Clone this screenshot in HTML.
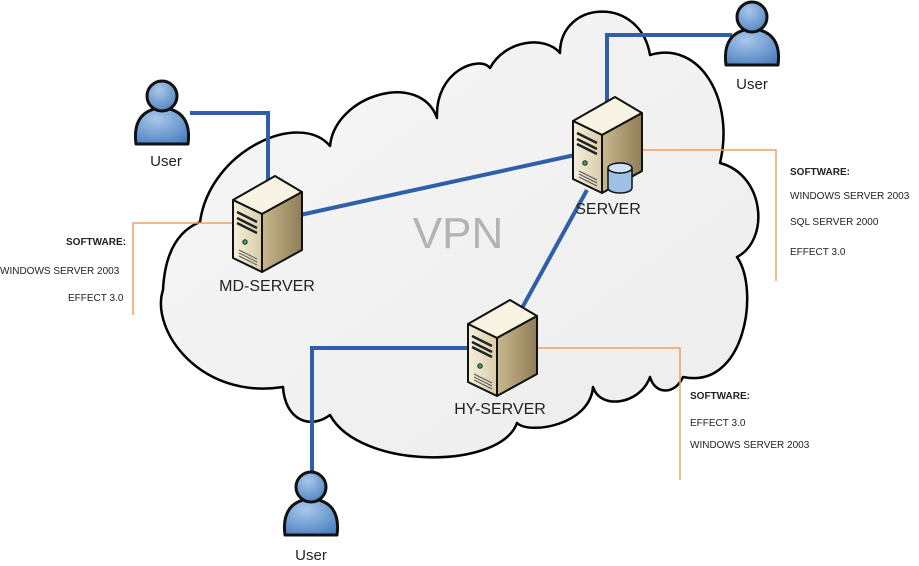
<!DOCTYPE html>
<html><head><meta charset="utf-8"><style>
html,body{margin:0;padding:0;background:#fff;}
svg{display:block;font-family:"Liberation Sans",Arial,sans-serif;}
</style></head><body>
<svg width="919" height="566" viewBox="0 0 919 566" xmlns="http://www.w3.org/2000/svg">
<defs>
<linearGradient id="cl" x1="0" y1="0" x2="1" y2="1"><stop offset="0" stop-color="#f7f7f7"/><stop offset="1" stop-color="#ececec"/></linearGradient>
<radialGradient id="ub" cx="0.4" cy="0.3" r="0.8"><stop offset="0" stop-color="#a9c8ea"/><stop offset="1" stop-color="#4a7fc0"/></radialGradient>
<linearGradient id="sf" x1="0" y1="0" x2="1" y2="0"><stop offset="0" stop-color="#f6f0dc"/><stop offset="1" stop-color="#d8ccaa"/></linearGradient>
<linearGradient id="sr" x1="0" y1="0" x2="1" y2="0"><stop offset="0" stop-color="#c9b88e"/><stop offset="1" stop-color="#8f7d57"/></linearGradient>
<g id="srv">
<polygon points="0,24 42,0 69,16 29,38" fill="#f8f3e2" stroke="#111" stroke-width="2" stroke-linejoin="round"/>
<polygon points="0,24 29,38 29,96 0,82" fill="url(#sf)" stroke="#111" stroke-width="2" stroke-linejoin="round"/>
<polygon points="29,38 69,16 69,74 29,96" fill="url(#sr)" stroke="#111" stroke-width="2" stroke-linejoin="round"/>
<path d="M4,36 L24,46 M4,42 L24,52 M4,47 L24,57" stroke="#222" stroke-width="2.5"/>
<circle cx="12" cy="66" r="2.2" fill="#3a6" stroke="#222" stroke-width="1"/>
<path d="M6,74 L24,83 M6,77 L24,86 M6,80 L24,89" stroke="#555" stroke-width="1"/>
</g>
<g id="usr">
<path d="M-26,47 C-29,25 -20,12 0,11 C20,12 29,25 26,47 Z" fill="url(#ub)" stroke="#111" stroke-width="3" stroke-linejoin="round"/>
<circle cx="0" cy="-1" r="15" fill="url(#ub)" stroke="#111" stroke-width="3"/>
</g>
</defs>
<path d="M200,222 C210,150 300,110 330,146 C335,95 420,70 437,118 C435,70 480,55 490,68 C505,40 545,35 560,53 C560,0 640,-5 650,55 C700,40 735,100 720,163 C765,175 770,240 737,257 C760,290 745,390 683,377 C675,395 655,395 650,377 C640,405 600,410 593,387 C590,425 530,435 517,423 C500,470 360,470 330,415 C310,430 285,420 283,387 C200,400 150,330 163,290 C165,250 180,230 200,222 Z" fill="url(#cl)" stroke="#000" stroke-width="2.5" stroke-linejoin="round"/>
<text x="458" y="248" font-size="44" fill="#b3b3b3" text-anchor="middle">VPN</text>
<g fill="none" stroke="#f0a060" stroke-width="1.5">
<path d="M233,223 H133 V315"/>
<path d="M642,150 H776 V281"/>
<path d="M537,348 H680 V480"/>
</g>
<g fill="none" stroke="#2e5fa8" stroke-width="4">
<path d="M190,113 H268 V180"/>
<path d="M300,215 L575,155"/>
<path d="M607,102 V35 H732"/>
<path d="M587,190 L522,308"/>
<path d="M470,348 H312 V478"/>
</g>
<use href="#srv" x="233" y="176"/>
<use href="#srv" x="573" y="97"/>
<use href="#srv" x="468" y="300"/>
<g stroke="#111" stroke-width="1.5">
<path d="M608,168 V188 A12,5 0 0 0 632,188 V168 Z" fill="#9ec2e6"/>
<ellipse cx="620" cy="168" rx="12" ry="5" fill="#cfe2f5"/>
</g>
<use href="#usr" x="162" y="97"/>
<use href="#usr" x="752" y="18"/>
<use href="#usr" x="311" y="488"/>
<g font-size="15" fill="#222" text-anchor="middle">
<text x="166" y="166">User</text>
<text x="752" y="89">User</text>
<text x="311" y="560">User</text>
<text x="267" y="291" font-size="16">MD-SERVER</text>
<text x="608" y="214" font-size="16">SERVER</text>
<text x="500" y="414" font-size="16">HY-SERVER</text>
</g>
<g font-size="10" fill="#222">
<text x="126" y="245" text-anchor="end" font-weight="bold">SOFTWARE:</text>
<text x="0" y="274">WINDOWS SERVER 2003</text>
<text x="68" y="301">EFFECT 3.0</text>
<text x="790" y="175" font-weight="bold">SOFTWARE:</text>
<text x="790" y="199">WINDOWS SERVER 2003</text>
<text x="790" y="225">SQL SERVER 2000</text>
<text x="790" y="255">EFFECT 3.0</text>
<text x="690" y="399" font-weight="bold">SOFTWARE:</text>
<text x="690" y="426">EFFECT 3.0</text>
<text x="690" y="448">WINDOWS SERVER 2003</text>
</g>
</svg>
</body></html>
